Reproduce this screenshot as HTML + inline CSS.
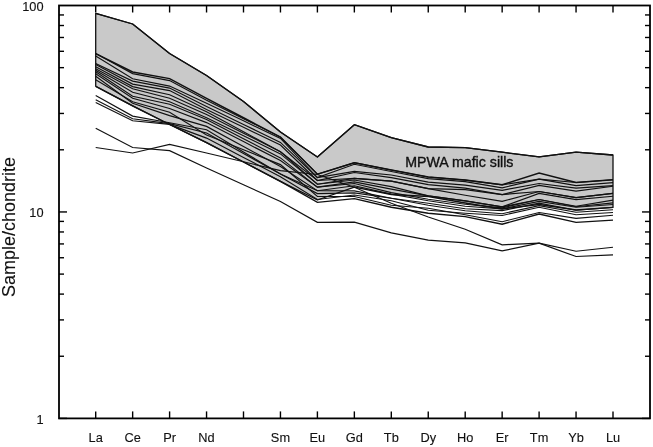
<!DOCTYPE html><html><head><meta charset="utf-8"><style>html,body{margin:0;padding:0;background:#fff;}svg{display:block;filter:blur(0.3px);}text{font-family:"Liberation Sans",sans-serif;fill:#111;stroke:#111;stroke-width:0.12px;}</style></head><body>
<svg width="653" height="447" viewBox="0 0 653 447">
<rect x="0" y="0" width="653" height="447" fill="#fff"/>
<polygon points="95.70,13.30 132.65,24.00 169.60,53.50 206.55,75.50 243.50,101.56 280.45,132.00 317.40,157.00 354.35,124.70 391.30,137.60 428.25,147.00 465.20,147.70 502.15,152.20 539.10,156.80 576.05,152.10 613.00,155.00 613.00,207.40 576.05,210.00 539.10,204.50 502.15,209.00 465.20,203.00 428.25,196.50 391.30,194.50 354.35,187.20 317.40,200.00 280.45,181.40 243.50,162.00 206.55,142.60 169.60,124.50 132.65,105.80 95.70,86.30" fill="#c9c9c9" stroke="#111" stroke-width="1.3" stroke-linejoin="round"/>
<polyline points="95.70,53.60 132.65,72.00 169.60,78.60 206.55,98.40 243.50,117.75 280.45,137.10 317.40,174.20 354.35,162.70 391.30,170.00 428.25,177.00 465.20,180.10 502.15,184.80 539.10,173.10 576.05,182.50 613.00,179.80" fill="none" stroke="#111" stroke-width="1.50"/>
<polyline points="95.70,53.60 132.65,73.60 169.60,80.60 206.55,100.20 243.50,118.65 280.45,137.10 317.40,174.20 354.35,162.70 391.30,170.00 428.25,177.00 465.20,180.10 502.15,184.80 539.10,179.20 576.05,182.50 613.00,179.80" fill="none" stroke="#111" stroke-width="1.15"/>
<polyline points="95.70,56.10 132.65,78.80 169.60,86.10 206.55,103.30 243.50,120.85 280.45,138.40 317.40,177.60 354.35,164.30 391.30,171.50 428.25,178.60 465.20,181.60 502.15,187.80 539.10,179.20 576.05,185.60 613.00,182.60" fill="none" stroke="#111" stroke-width="1.15"/>
<polyline points="95.70,63.60 132.65,81.10 169.60,88.10 206.55,106.50 243.50,124.45 280.45,142.40 317.40,177.60 354.35,171.40 391.30,175.00 428.25,182.10 465.20,185.10 502.15,190.30 539.10,183.50 576.05,188.10 613.00,185.60" fill="none" stroke="#111" stroke-width="1.15"/>
<polyline points="95.70,64.60 132.65,84.10 169.60,90.60 206.55,109.60 243.50,127.35 280.45,145.10 317.40,180.50 354.35,172.50 391.30,177.60 428.25,184.60 465.20,188.10 502.15,194.60 539.10,185.40 576.05,191.10 613.00,186.20" fill="none" stroke="#111" stroke-width="1.15"/>
<polyline points="95.70,66.70 132.65,86.60 169.60,94.70 206.55,111.80 243.50,131.80 280.45,151.80 317.40,180.50 354.35,178.40 391.30,181.10 428.25,188.60 465.20,189.60 502.15,194.60 539.10,191.50 576.05,197.60 613.00,193.40" fill="none" stroke="#111" stroke-width="1.15"/>
<polyline points="95.70,68.70 132.65,88.70 169.60,98.20 206.55,114.50 243.50,133.15 280.45,151.80 317.40,184.20 354.35,178.40 391.30,181.10 428.25,188.60 465.20,195.20 502.15,201.40 539.10,191.50 576.05,197.60 613.00,193.40" fill="none" stroke="#111" stroke-width="1.15"/>
<polyline points="95.70,70.20 132.65,92.20 169.60,101.70 206.55,117.70 243.50,135.80 280.45,153.90 317.40,184.20 354.35,180.00 391.30,186.60 428.25,195.90 465.20,200.90 502.15,206.90 539.10,193.40 576.05,199.60 613.00,196.20" fill="none" stroke="#111" stroke-width="1.15"/>
<polyline points="95.70,71.70 132.65,96.20 169.60,104.20 206.55,119.50 243.50,138.70 280.45,157.90 317.40,187.10 354.35,181.90 391.30,189.10 428.25,195.90 465.20,200.90 502.15,206.90 539.10,199.50 576.05,206.20 613.00,200.10" fill="none" stroke="#111" stroke-width="1.15"/>
<polyline points="95.70,73.70 132.65,98.20 169.60,108.50 206.55,122.60 243.50,141.60 280.45,160.60 317.40,187.10 354.35,183.50 391.30,192.60 428.25,199.20 465.20,204.20 502.15,207.80 539.10,199.50 576.05,206.70 613.00,202.90" fill="none" stroke="#111" stroke-width="1.15"/>
<polyline points="95.70,76.20 132.65,103.30 169.60,115.60 206.55,126.40 243.50,146.50 280.45,166.60 317.40,190.70 354.35,185.80 391.30,194.10 428.25,200.70 465.20,206.20 502.15,208.80 539.10,201.40 576.05,207.20 613.00,204.50" fill="none" stroke="#111" stroke-width="1.15"/>
<polyline points="95.70,95.50 132.65,116.10 169.60,122.80 206.55,129.80 243.50,151.90 280.45,174.00 317.40,190.70 354.35,190.90 391.30,198.20 428.25,203.20 465.20,208.80 502.15,210.60 539.10,203.20 576.05,210.20 613.00,207.40" fill="none" stroke="#111" stroke-width="1.15"/>
<polyline points="95.70,99.80 132.65,118.70 169.60,123.60 206.55,133.00 243.50,153.50 280.45,174.00 317.40,193.60 354.35,192.90 391.30,198.20 428.25,205.20 465.20,210.80 502.15,213.70 539.10,205.70 576.05,212.20 613.00,209.70" fill="none" stroke="#111" stroke-width="1.15"/>
<polyline points="95.70,102.60 132.65,120.70 169.60,124.40 206.55,138.10 243.50,157.40 280.45,176.70 317.40,199.50 354.35,195.00 391.30,200.70 428.25,210.30 465.20,213.30 502.15,215.50 539.10,207.30 576.05,214.70 613.00,212.50" fill="none" stroke="#111" stroke-width="1.15"/>
<polyline points="95.70,86.30 132.65,105.80 169.60,124.50 206.55,142.60 243.50,162.00 280.45,181.40 317.40,202.40 354.35,198.60 391.30,207.20 428.25,213.30 465.20,216.60 502.15,224.20 539.10,214.00 576.05,222.40 613.00,220.10" fill="none" stroke="#111" stroke-width="1.40"/>
<polyline points="95.70,128.30 132.65,147.50 169.60,150.60 206.55,168.00 243.50,184.75 280.45,201.50 317.40,222.30 354.35,222.20 391.30,232.80 428.25,240.20 465.20,242.80 502.15,250.90 539.10,243.10 576.05,256.50 613.00,254.90" fill="none" stroke="#111" stroke-width="1.20"/>
<polyline points="95.70,147.50 132.65,153.00 169.60,144.40 206.55,153.00 243.50,161.80 280.45,170.60 317.40,174.50 354.35,187.20 391.30,203.20 428.25,217.00 465.20,229.20 502.15,244.80 539.10,243.10 576.05,251.20 613.00,247.20" fill="none" stroke="#111" stroke-width="1.15"/>
<polyline points="95.70,79.70 132.65,101.80 169.60,112.30 206.55,135.00 243.50,149.80 280.45,164.60 317.40,196.50 354.35,196.50 391.30,205.20 428.25,208.30 465.20,214.80 502.15,221.70 539.10,212.50 576.05,218.40 613.00,215.30" fill="none" stroke="#111" stroke-width="1.15"/>
<polyline points="95.70,13.30 132.65,24.00 169.60,53.50 206.55,75.50 243.50,101.56 280.45,132.00 317.40,157.00 354.35,124.70 391.30,137.60 428.25,147.00 465.20,147.70 502.15,152.20 539.10,156.80 576.05,152.10 613.00,155.00" fill="none" stroke="#111" stroke-width="1.30"/>
<rect x="59.0" y="5.5" width="591.0" height="412.9" fill="none" stroke="#000" stroke-width="1.8"/>
<line x1="95.70" y1="5.5" x2="95.70" y2="12.5" stroke="#000" stroke-width="1.4"/>
<line x1="95.70" y1="418.4" x2="95.70" y2="411.4" stroke="#000" stroke-width="1.4"/>
<line x1="132.65" y1="5.5" x2="132.65" y2="12.5" stroke="#000" stroke-width="1.4"/>
<line x1="132.65" y1="418.4" x2="132.65" y2="411.4" stroke="#000" stroke-width="1.4"/>
<line x1="169.60" y1="5.5" x2="169.60" y2="12.5" stroke="#000" stroke-width="1.4"/>
<line x1="169.60" y1="418.4" x2="169.60" y2="411.4" stroke="#000" stroke-width="1.4"/>
<line x1="206.55" y1="5.5" x2="206.55" y2="12.5" stroke="#000" stroke-width="1.4"/>
<line x1="206.55" y1="418.4" x2="206.55" y2="411.4" stroke="#000" stroke-width="1.4"/>
<line x1="243.50" y1="5.5" x2="243.50" y2="12.5" stroke="#000" stroke-width="1.4"/>
<line x1="243.50" y1="418.4" x2="243.50" y2="411.4" stroke="#000" stroke-width="1.4"/>
<line x1="280.45" y1="5.5" x2="280.45" y2="12.5" stroke="#000" stroke-width="1.4"/>
<line x1="280.45" y1="418.4" x2="280.45" y2="411.4" stroke="#000" stroke-width="1.4"/>
<line x1="317.40" y1="5.5" x2="317.40" y2="12.5" stroke="#000" stroke-width="1.4"/>
<line x1="317.40" y1="418.4" x2="317.40" y2="411.4" stroke="#000" stroke-width="1.4"/>
<line x1="354.35" y1="5.5" x2="354.35" y2="12.5" stroke="#000" stroke-width="1.4"/>
<line x1="354.35" y1="418.4" x2="354.35" y2="411.4" stroke="#000" stroke-width="1.4"/>
<line x1="391.30" y1="5.5" x2="391.30" y2="12.5" stroke="#000" stroke-width="1.4"/>
<line x1="391.30" y1="418.4" x2="391.30" y2="411.4" stroke="#000" stroke-width="1.4"/>
<line x1="428.25" y1="5.5" x2="428.25" y2="12.5" stroke="#000" stroke-width="1.4"/>
<line x1="428.25" y1="418.4" x2="428.25" y2="411.4" stroke="#000" stroke-width="1.4"/>
<line x1="465.20" y1="5.5" x2="465.20" y2="12.5" stroke="#000" stroke-width="1.4"/>
<line x1="465.20" y1="418.4" x2="465.20" y2="411.4" stroke="#000" stroke-width="1.4"/>
<line x1="502.15" y1="5.5" x2="502.15" y2="12.5" stroke="#000" stroke-width="1.4"/>
<line x1="502.15" y1="418.4" x2="502.15" y2="411.4" stroke="#000" stroke-width="1.4"/>
<line x1="539.10" y1="5.5" x2="539.10" y2="12.5" stroke="#000" stroke-width="1.4"/>
<line x1="539.10" y1="418.4" x2="539.10" y2="411.4" stroke="#000" stroke-width="1.4"/>
<line x1="576.05" y1="5.5" x2="576.05" y2="12.5" stroke="#000" stroke-width="1.4"/>
<line x1="576.05" y1="418.4" x2="576.05" y2="411.4" stroke="#000" stroke-width="1.4"/>
<line x1="613.00" y1="5.5" x2="613.00" y2="12.5" stroke="#000" stroke-width="1.4"/>
<line x1="613.00" y1="418.4" x2="613.00" y2="411.4" stroke="#000" stroke-width="1.4"/>
<line x1="59.0" y1="418.40" x2="67.0" y2="418.40" stroke="#000" stroke-width="1.4"/>
<line x1="650.0" y1="418.40" x2="642.0" y2="418.40" stroke="#000" stroke-width="1.4"/>
<line x1="59.0" y1="356.25" x2="64.0" y2="356.25" stroke="#000" stroke-width="1.4"/>
<line x1="650.0" y1="356.25" x2="645.0" y2="356.25" stroke="#000" stroke-width="1.4"/>
<line x1="59.0" y1="319.90" x2="64.0" y2="319.90" stroke="#000" stroke-width="1.4"/>
<line x1="650.0" y1="319.90" x2="645.0" y2="319.90" stroke="#000" stroke-width="1.4"/>
<line x1="59.0" y1="294.10" x2="64.0" y2="294.10" stroke="#000" stroke-width="1.4"/>
<line x1="650.0" y1="294.10" x2="645.0" y2="294.10" stroke="#000" stroke-width="1.4"/>
<line x1="59.0" y1="274.10" x2="64.0" y2="274.10" stroke="#000" stroke-width="1.4"/>
<line x1="650.0" y1="274.10" x2="645.0" y2="274.10" stroke="#000" stroke-width="1.4"/>
<line x1="59.0" y1="257.75" x2="64.0" y2="257.75" stroke="#000" stroke-width="1.4"/>
<line x1="650.0" y1="257.75" x2="645.0" y2="257.75" stroke="#000" stroke-width="1.4"/>
<line x1="59.0" y1="243.93" x2="64.0" y2="243.93" stroke="#000" stroke-width="1.4"/>
<line x1="650.0" y1="243.93" x2="645.0" y2="243.93" stroke="#000" stroke-width="1.4"/>
<line x1="59.0" y1="231.96" x2="64.0" y2="231.96" stroke="#000" stroke-width="1.4"/>
<line x1="650.0" y1="231.96" x2="645.0" y2="231.96" stroke="#000" stroke-width="1.4"/>
<line x1="59.0" y1="221.40" x2="64.0" y2="221.40" stroke="#000" stroke-width="1.4"/>
<line x1="650.0" y1="221.40" x2="645.0" y2="221.40" stroke="#000" stroke-width="1.4"/>
<line x1="59.0" y1="211.95" x2="67.0" y2="211.95" stroke="#000" stroke-width="1.4"/>
<line x1="650.0" y1="211.95" x2="642.0" y2="211.95" stroke="#000" stroke-width="1.4"/>
<line x1="59.0" y1="149.80" x2="64.0" y2="149.80" stroke="#000" stroke-width="1.4"/>
<line x1="650.0" y1="149.80" x2="645.0" y2="149.80" stroke="#000" stroke-width="1.4"/>
<line x1="59.0" y1="113.45" x2="64.0" y2="113.45" stroke="#000" stroke-width="1.4"/>
<line x1="650.0" y1="113.45" x2="645.0" y2="113.45" stroke="#000" stroke-width="1.4"/>
<line x1="59.0" y1="87.65" x2="64.0" y2="87.65" stroke="#000" stroke-width="1.4"/>
<line x1="650.0" y1="87.65" x2="645.0" y2="87.65" stroke="#000" stroke-width="1.4"/>
<line x1="59.0" y1="67.65" x2="64.0" y2="67.65" stroke="#000" stroke-width="1.4"/>
<line x1="650.0" y1="67.65" x2="645.0" y2="67.65" stroke="#000" stroke-width="1.4"/>
<line x1="59.0" y1="51.30" x2="64.0" y2="51.30" stroke="#000" stroke-width="1.4"/>
<line x1="650.0" y1="51.30" x2="645.0" y2="51.30" stroke="#000" stroke-width="1.4"/>
<line x1="59.0" y1="37.48" x2="64.0" y2="37.48" stroke="#000" stroke-width="1.4"/>
<line x1="650.0" y1="37.48" x2="645.0" y2="37.48" stroke="#000" stroke-width="1.4"/>
<line x1="59.0" y1="25.51" x2="64.0" y2="25.51" stroke="#000" stroke-width="1.4"/>
<line x1="650.0" y1="25.51" x2="645.0" y2="25.51" stroke="#000" stroke-width="1.4"/>
<line x1="59.0" y1="14.95" x2="64.0" y2="14.95" stroke="#000" stroke-width="1.4"/>
<line x1="650.0" y1="14.95" x2="645.0" y2="14.95" stroke="#000" stroke-width="1.4"/>
<text x="43.6" y="11.40" font-size="12.8" text-anchor="end">100</text>
<text x="43.6" y="217.15" font-size="12.8" text-anchor="end">10</text>
<text x="43.6" y="424.00" font-size="12.8" text-anchor="end">1</text>
<text transform="translate(14.8,227) rotate(-90)" font-size="18" style="stroke-width:0.1px" text-anchor="middle">Sample/chondrite</text>
<text x="95.70" y="442.2" font-size="12.8" text-anchor="middle">La</text>
<text x="132.65" y="442.2" font-size="12.8" text-anchor="middle">Ce</text>
<text x="169.60" y="442.2" font-size="12.8" text-anchor="middle">Pr</text>
<text x="206.55" y="442.2" font-size="12.8" text-anchor="middle">Nd</text>
<text x="280.45" y="442.2" font-size="12.8" text-anchor="middle">Sm</text>
<text x="317.40" y="442.2" font-size="12.8" text-anchor="middle">Eu</text>
<text x="354.35" y="442.2" font-size="12.8" text-anchor="middle">Gd</text>
<text x="391.30" y="442.2" font-size="12.8" text-anchor="middle">Tb</text>
<text x="428.25" y="442.2" font-size="12.8" text-anchor="middle">Dy</text>
<text x="465.20" y="442.2" font-size="12.8" text-anchor="middle">Ho</text>
<text x="502.15" y="442.2" font-size="12.8" text-anchor="middle">Er</text>
<text x="539.10" y="442.2" font-size="12.8" text-anchor="middle">Tm</text>
<text x="576.05" y="442.2" font-size="12.8" text-anchor="middle">Yb</text>
<text x="613.00" y="442.2" font-size="12.8" text-anchor="middle">Lu</text>
<text x="405.2" y="166.8" font-size="14.2" style="stroke-width:0.35px">MPWA mafic sills</text>
</svg></body></html>
